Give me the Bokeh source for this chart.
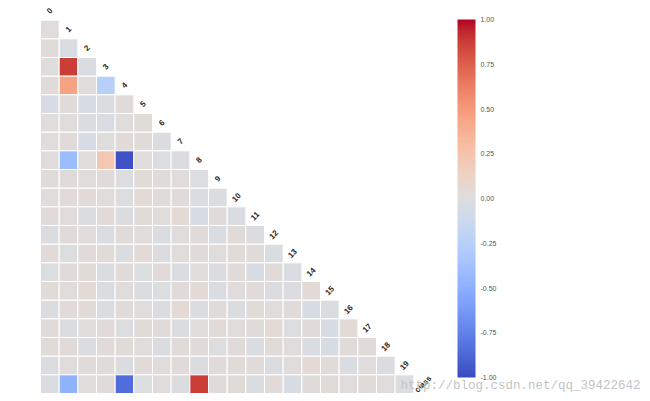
import math
from bokeh.plotting import figure
from bokeh.models import (ColumnDataSource, LinearColorMapper, ColorBar, FixedTicker,
                          PrintfTickFormatter, Range1d, Label)
from bokeh.core.properties import value
from bokeh.embed import file_html
from bokeh.resources import INLINE

# ---- data ----
variables = [str(i) for i in range(20)] + ["class"]

# lower-triangle correlations: row i (variable i, 1..20) against columns 0..i-1
corr_rows = [
    [0.01],
    [0.02, -0.03],
    [0.01, 0.87, -0.03],
    [0.02, 0.45, 0.01, -0.25],
    [-0.05, 0.02, -0.04, -0.02, 0.02],
    [0.01, 0.00, -0.02, -0.03, 0.01, 0.03],
    [0.01, 0.02, -0.05, 0.00, 0.03, 0.03, -0.02],
    [0.01, -0.42, 0.01, 0.22, -0.97, 0.01, -0.01, -0.02],
    [0.02, 0.02, 0.01, 0.02, -0.01, 0.03, 0.02, 0.01, -0.01],
    [0.01, 0.02, 0.03, 0.01, -0.01, 0.04, 0.02, 0.02, -0.03, -0.02],
    [0.02, 0.01, -0.02, 0.03, -0.02, 0.03, 0.01, 0.04, -0.04, 0.02, -0.03],
    [-0.02, 0.02, 0.01, -0.03, 0.02, 0.01, -0.02, 0.01, 0.02, -0.03, 0.03, -0.02],
    [0.02, -0.01, 0.02, 0.03, -0.02, 0.04, -0.02, 0.01, 0.02, 0.01, 0.03, 0.02, -0.03],
    [-0.01, 0.02, 0.03, -0.02, 0.02, -0.01, 0.02, -0.03, 0.01, -0.02, 0.02, -0.04, 0.02, -0.03],
    [0.03, 0.01, 0.04, -0.03, 0.01, -0.02, -0.01, 0.02, 0.04, -0.03, 0.01, 0.02, -0.02, -0.02, 0.04],
    [-0.02, 0.02, 0.03, -0.03, 0.02, 0.01, -0.02, 0.04, -0.02, 0.02, -0.02, 0.03, 0.01, 0.02, -0.04, -0.02],
    [0.02, -0.02, 0.01, 0.02, -0.01, 0.03, 0.02, -0.02, 0.01, 0.03, 0.01, 0.02, 0.04, -0.01, 0.02, -0.04, 0.03],
    [0.03, 0.02, -0.02, 0.02, 0.03, 0.01, -0.02, 0.02, 0.02, -0.01, 0.02, -0.03, 0.02, 0.01, -0.03, -0.04, 0.02, 0.03],
    [-0.02, 0.01, 0.02, 0.03, -0.02, 0.02, 0.01, 0.02, -0.02, 0.02, 0.03, 0.02, -0.02, 0.01, 0.04, 0.03, -0.03, 0.01, -0.02],
    [-0.02, -0.48, 0.01, 0.02, -0.85, -0.01, 0.01, -0.02, 0.87, 0.02, 0.03, -0.03, 0.02, -0.04, 0.02, 0.03, 0.01, 0.02, 0.01, -0.01],
]

colorbar_ticks = [-1.0, -0.75, -0.5, -0.25, 0.0, 0.25, 0.5, 0.75, 1.0]
watermark = "http://blog.csdn.net/qq_39422642"

# ---- coolwarm palette (Moreland diverging map) ----
cw = [
    (59, 76, 192), (68, 90, 204), (77, 104, 215), (87, 117, 225), (98, 130, 234),
    (108, 142, 241), (119, 154, 247), (130, 165, 251), (141, 176, 254), (152, 185, 255),
    (163, 194, 255), (174, 201, 253), (184, 208, 249), (194, 213, 244), (204, 217, 238),
    (213, 219, 230), (221, 221, 221), (229, 216, 209), (236, 211, 197), (241, 204, 185),
    (245, 196, 173), (247, 187, 160), (247, 177, 148), (247, 166, 135), (244, 154, 123),
    (241, 141, 111), (236, 127, 99), (229, 112, 88), (222, 96, 77), (213, 80, 66),
    (203, 62, 56), (192, 40, 47), (180, 4, 38),
]
palette = []
n = 256
for k in range(n):
    t = k / (n - 1) * (len(cw) - 1)
    i = min(int(t), len(cw) - 2)
    f = t - i
    c = [round(cw[i][j] + (cw[i + 1][j] - cw[i][j]) * f) for j in range(3)]
    palette.append("#%02x%02x%02x" % tuple(c))

mapper = LinearColorMapper(palette=palette, low=-1, high=1)

xs, ys, vals = [], [], []
for r, row in enumerate(corr_rows, start=1):
    for c, v in enumerate(row):
        xs.append(c + 0.5)
        ys.append(r + 0.5)
        vals.append(v)
src = ColumnDataSource(dict(x=xs, y=ys, v=vals))

W, H = 650, 401
s = 392 / 21.0  # cell size in px
left_px, top_px = 40, 1

p = figure(width=W, height=H, output_backend="svg", toolbar_location=None,
           x_axis_location=None, y_axis_location=None,
           x_range=Range1d(-left_px / s, (W - left_px) / s),
           y_range=Range1d((H - top_px) / s, -top_px / s),
           min_border=0)
p.grid.visible = False
p.outline_line_color = None
p.background_fill_color = "white"

p.rect(x="x", y="y", width=1, height=1, source=src,
       fill_color={"field": "v", "transform": mapper},
       line_color="white", line_width=1)

lab_src = ColumnDataSource(dict(x=[k + 0.5 for k in range(len(variables))],
                                y=[k + 0.5 for k in range(len(variables))],
                                t=variables))
p.text(x="x", y="y", text="t", source=lab_src, angle=math.pi / 4,
       text_align="center", text_baseline="middle",
       text_font=value("Liberation Sans"), text_font_style="bold",
       text_font_size="8px", text_color="#262626")

cb = ColorBar(color_mapper=mapper, ticker=FixedTicker(ticks=colorbar_ticks),
              formatter=PrintfTickFormatter(format="%.2f"),
              width=18, height=358, padding=0, location=(457, 24),
              major_tick_line_color=None, minor_tick_line_color=None,
              bar_line_color=None, border_line_color=None,
              background_fill_color=None, label_standoff=5,
              major_label_text_font_size="7px",
              major_label_text_font="Liberation Sans",
              major_label_text_color="#555555")
p.add_layout(cb, "center")

wm = Label(x=400, y=H - 392, x_units="screen", y_units="screen", text=watermark,
           text_font="Liberation Mono", text_font_size="12.5px", text_color="#c4c4c4")
p.add_layout(wm)

open("out.html", "w").write(file_html(p, INLINE))
